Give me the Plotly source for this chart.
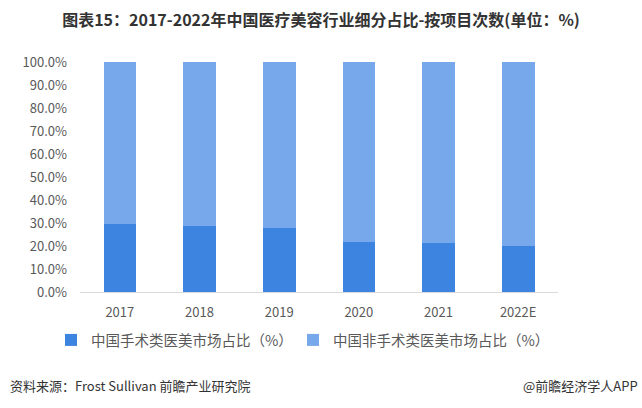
import plotly.graph_objects as go

years = ["2017", "2018", "2019", "2020", "2021", "2022E"]
surgical = [29.4, 28.5, 28.0, 21.9, 21.1, 20.2]
non_surgical = [70.6, 71.5, 72.0, 78.1, 78.9, 79.8]

title = "图表15：2017-2022年中国医疗美容行业细分占比-按项目次数(单位：%)"
name1 = "中国手术类医美市场占比（%）"
name2 = "中国非手术类医美市场占比（%）"
source = "资料来源：Frost Sullivan 前瞻产业研究院"
brand = "@前瞻经济学人APP"

font_family = "Noto Sans CJK SC, Noto Sans, sans-serif"
grey = "#595959"

fig = go.Figure()
fig.add_trace(go.Bar(x=years, y=[v / 100 for v in surgical], name=name1,
                     marker=dict(color="#3d83e0", line=dict(width=0)), legend="legend"))
fig.add_trace(go.Bar(x=years, y=[v / 100 for v in non_surgical], name=name2,
                     marker=dict(color="#77a8ec", line=dict(width=0)), legend="legend2"))

leg_common = dict(orientation="h", xanchor="left", y=-(340 - 292) / 230, yanchor="middle",
                  font=dict(size=14.5, color=grey), itemwidth=30, bgcolor="rgba(0,0,0,0)")

fig.update_layout(
    width=642, height=408,
    barmode="stack", bargap=0.59,
    plot_bgcolor="white", paper_bgcolor="white",
    margin=dict(l=80, r=84, t=62, b=116),
    font=dict(family=font_family, color=grey, size=12),
    title=dict(text="<b>" + title + "</b>", x=0.5, xanchor="center",
               y=1 - 20 / 408, yanchor="middle",
               font=dict(size=16, color="#333333", family=font_family)),
    showlegend=True,
    legend=dict(x=-29 / 478, **leg_common),
    legend2=dict(x=213 / 478, **leg_common),
    xaxis=dict(showline=True, linecolor="#d9d9d9", linewidth=1, ticks="",
               showgrid=False, tickfont=dict(size=13, color=grey), ticklabelstandoff=8),
    yaxis=dict(range=[0, 1], dtick=0.1, tickformat=".1%", showgrid=False,
               zeroline=False, showline=False, ticks="",
               tickfont=dict(size=13, color=grey), ticklabelstandoff=12),
    annotations=[
        dict(text=source, xref="paper", yref="paper", x=-72 / 478, xanchor="left",
             y=-(385 - 292) / 230, yanchor="middle", showarrow=False,
             font=dict(size=13, color="#333333")),
        dict(text=brand, xref="paper", yref="paper", x=(640 - 80) / 478, xanchor="right",
             y=-(385 - 292) / 230, yanchor="middle", showarrow=False,
             font=dict(size=13, color="#333333")),
    ],
)

fig.write_html("out.html")
